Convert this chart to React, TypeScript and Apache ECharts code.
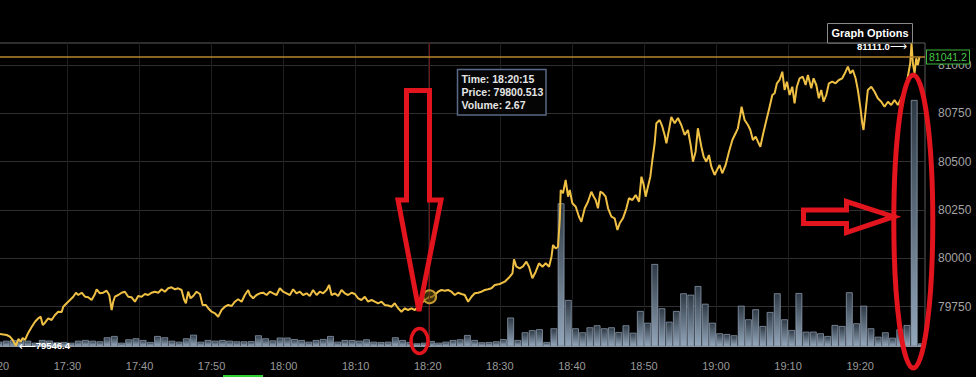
import React, { useEffect, useRef } from "react";
import * as echarts from "echarts";

// ---------- DATA ----------
const priceTimes = [
  "17:20:38","17:21:34","17:22:01","17:22:24","17:22:51","17:23:11","17:23:30","17:23:47","17:24:06","17:24:34",
  "17:25:02","17:25:30","17:25:57","17:26:17","17:26:34","17:26:53","17:27:20","17:27:48","17:28:16","17:28:43",
  "17:29:12","17:29:25","17:29:53","17:30:21","17:30:48","17:31:11","17:31:30","17:31:58","17:32:26","17:32:53",
  "17:33:21","17:33:49","17:34:03","17:34:30","17:34:58","17:35:26","17:35:48","17:36:08","17:36:21","17:36:35",
  "17:37:03","17:37:31","17:37:58","17:38:26","17:38:54","17:39:22","17:39:49","17:40:17","17:40:45","17:41:12",
  "17:41:41","17:42:08","17:42:36","17:43:04","17:43:31","17:43:59","17:44:27","17:44:55","17:45:22","17:45:50",
  "17:46:10","17:46:26","17:46:45","17:47:05","17:47:27","17:47:55","17:48:23","17:48:45","17:49:13","17:49:32",
  "17:50:00","17:50:28","17:50:55","17:51:23","17:51:51","17:52:18","17:52:47","17:53:14","17:53:41","17:54:10",
  "17:54:37","17:55:05","17:55:19","17:55:46","17:56:14","17:56:42","17:57:09","17:57:38","17:58:05","17:58:33",
  "17:59:01","17:59:28","17:59:56","18:00:24","18:00:52","18:01:19","18:01:47","18:02:15","18:02:42","18:03:11",
  "18:03:38","18:04:05","18:04:34","18:05:01","18:05:29","18:05:57","18:06:19","18:06:39","18:07:06","18:07:34",
  "18:08:02","18:08:29","18:08:57","18:09:25","18:09:53","18:10:20","18:10:48","18:11:16","18:11:43","18:12:12",
  "18:12:39","18:13:06","18:13:35","18:14:02","18:14:30","18:14:58","18:15:25","18:15:53","18:16:21","18:16:49",
  "18:17:16","18:17:44","18:18:12","18:18:39","18:19:08","18:19:35","18:20:15","18:20:31","18:20:58","18:21:26",
  "18:21:54","18:22:22","18:22:49","18:23:17","18:23:45","18:24:12","18:24:41","18:25:08","18:25:36","18:26:04",
  "18:26:31","18:26:59","18:27:27","18:27:55","18:28:22","18:28:50","18:29:18","18:29:59","18:30:41","18:31:23",
  "18:31:45","18:31:58","18:32:18","18:32:46","18:33:13","18:33:41","18:34:03","18:34:31","18:34:59","18:35:26",
  "18:35:55","18:36:22","18:36:50","18:37:10","18:37:23","18:37:45","18:38:04","18:38:19","18:38:27","18:38:46",
  "18:39:08","18:39:28","18:39:42","18:40:04","18:40:32","18:40:59","18:41:19","18:41:47","18:42:14","18:42:42",
  "18:43:02","18:43:18","18:43:37","18:43:57","18:44:19","18:44:41","18:45:01","18:45:29","18:45:56","18:46:19",
  "18:46:38","18:47:05","18:47:34","18:47:55","18:48:24","18:48:51","18:49:19","18:49:39","18:49:58","18:50:14",
  "18:50:33","18:50:53","18:51:10","18:51:29","18:51:43","18:52:11","18:52:33","18:52:52","18:53:07","18:53:28",
  "18:53:48","18:54:16","18:54:43","18:55:11","18:55:39","18:56:06","18:56:29","18:56:48","18:57:10","18:57:29",
  "18:57:58","18:58:17","18:58:39","18:59:01","18:59:21","18:59:48","19:00:08","19:00:30","19:00:52","19:01:20",
  "19:01:48","19:02:16","19:02:43","19:03:02","19:03:22","19:03:33","19:03:58","19:04:26","19:04:46","19:05:07",
  "19:05:30","19:05:49","19:06:09","19:06:30","19:06:53","19:07:20","19:07:49","19:08:08","19:08:27","19:08:49",
  "19:09:12","19:09:31","19:09:50","19:10:13","19:10:35","19:10:54","19:11:13","19:11:36","19:12:03","19:12:26",
  "19:12:45","19:13:13","19:13:32","19:13:55","19:14:16","19:14:36","19:14:56","19:15:18","19:15:40","19:16:08",
  "19:16:35","19:17:03","19:17:31","19:17:59","19:18:18","19:18:38","19:18:59","19:19:22","19:19:41","19:20:01",
  "19:20:18","19:20:28","19:20:45","19:21:04","19:21:33","19:22:00","19:22:27","19:22:56","19:23:23","19:23:51",
  "19:24:19","19:24:46","19:25:14","19:25:42","19:26:10","19:26:37","19:26:57","19:27:08","19:27:19","19:27:33",
  "19:27:47","19:28:00","19:28:14",
];

const priceValues = [
  79607.7,79602.5,79593.7,79576.6,79546.4,79581.8,79567.8,79587.0,79576.6,79614.4,
  79643.9,79671.3,79688.9,79697.2,79654.2,79666.1,79688.9,79680.1,79706.0,79723.1,
  79721.5,79748.9,79766.6,79783.6,79800.7,79821.4,79809.5,79821.4,79800.7,79798.0,
  79783.6,79814.7,79839.0,79818.3,79821.4,79831.8,79809.5,79731.9,79774.8,79800.7,
  79809.5,79821.4,79826.6,79800.7,79797.6,79774.8,79804.3,79800.7,79814.7,79809.5,
  79821.4,79826.6,79821.4,79839.0,79826.6,79844.2,79849.4,79839.0,79844.2,79835.4,
  79787.3,79766.6,79826.6,79792.4,79804.3,79826.6,79814.7,79757.8,79757.8,79740.7,
  79723.1,79714.8,79697.2,79731.9,79748.9,79757.8,79752.6,79774.8,79787.3,79774.8,
  79809.5,79835.4,79809.5,79792.4,79809.5,79818.3,79821.4,79809.5,79826.6,79818.3,
  79809.5,79844.2,79826.6,79818.3,79809.5,79839.0,79818.3,79826.6,79809.5,79818.3,
  79804.3,79835.4,79809.5,79826.6,79818.3,79835.4,79861.3,79809.5,79818.3,79804.3,
  79835.4,79818.3,79809.5,79821.4,79814.7,79792.4,79783.6,79800.7,79774.8,79783.6,
  79774.8,79766.6,79774.8,79757.8,79755.0,79748.9,79766.6,79740.7,79723.1,79740.7,
  79731.9,79740.7,79731.9,79748.9,79766.6,79783.6,79800.513,79798.0,79809.5,79826.6,
  79835.4,79831.8,79835.4,79826.6,79809.5,79821.4,79814.7,79809.5,79774.8,79800.7,
  79818.3,79821.4,79826.6,79835.4,79839.0,79844.2,79861.3,79866.5,79878.4,79904.3,
  79921.8,79994.3,79956.0,79947.7,79958.0,79981.9,79956.0,79895.9,79930.1,79973.6,
  79956.0,79973.6,79956.0,80007.7,80068.3,80051.2,80059.5,80197.7,80353.0,80335.9,
  80404.8,80318.3,80353.0,80284.2,80266.6,80214.8,80188.9,80258.3,80292.4,80344.2,
  80318.3,80301.2,80258.3,80344.2,80335.9,80318.3,80258.3,80214.8,80206.5,80145.9,
  80180.6,80206.5,80258.3,80310.2,80301.2,80327.1,80292.4,80421.8,80378.9,80318.3,
  80370.1,80421.8,80508.3,80594.7,80698.2,80715.3,80680.6,80637.7,80594.7,80663.6,
  80730.8,80698.2,80725.7,80689.4,80637.7,80663.6,80585.9,80499.5,80551.2,80672.4,
  80577.1,80525.4,80499.5,80534.2,80473.6,80430.6,80456.5,80482.4,80439.5,80482.4,
  80551.2,80611.8,80646.5,80672.4,80741.2,80784.2,80715.3,80689.4,80663.6,80611.8,
  80628.9,80603.0,80577.1,80637.7,80698.2,80767.1,80844.7,80853.5,80905.3,80922.4,
  80965.3,80870.6,80913.6,80844.7,80887.7,80801.8,80887.7,80931.2,80939.4,80896.5,
  80948.2,80879.4,80931.2,80896.5,80827.6,80870.6,80810.0,80844.7,80905.3,80913.6,
  80905.3,80922.4,80931.2,80965.3,80991.2,80957.0,80974.1,80931.2,80870.6,80784.2,
  80698.2,80663.6,80758.3,80870.6,80887.7,80861.8,80827.6,80810.0,80784.2,80810.0,
  80792.9,80818.8,80792.9,80827.6,80870.6,80939.4,81008.8,81111.0,81008.8,80957.0,
  81034.7,81000.0,81041.2,
];

// one bar per minute, first bar = volumeStart
const volumeStart = "17:20";
const volumeValues = [
  2.30,2.83,3.21,3.10,2.83,1.76,3.21,2.90,1.98,2.14,
  1.76,2.83,3.21,2.83,2.51,4.65,5.35,1.76,3.58,4.12,
  3.21,2.14,5.35,4.65,2.83,2.30,4.12,6.04,2.30,3.21,
  2.83,3.21,2.83,2.51,2.50,2.60,5.72,4.12,3.00,4.50,
  4.50,3.70,3.21,2.30,3.21,3.74,5.35,2.30,3.21,3.15,
  2.83,3.58,2.30,2.14,2.30,4.65,3.21,2.14,1.44,1.76,
  2.67,1.76,2.30,3.21,3.58,5.88,3.21,2.00,2.14,2.50,
  3.66,15.24,3.21,7.33,8.45,8.98,2.14,9.47,76.30,24.60,
  9.47,7.33,10.00,11.07,9.47,10.00,7.49,11.07,7.11,18.72,
  12.46,43.85,20.16,13.00,18.72,28.18,27.43,32.09,22.60,12.46,
  6.79,6.42,5.72,21.55,14.28,19.63,10.70,18.18,28.18,14.28,
  8.56,28.30,7.65,7.70,6.79,5.35,11.23,10.70,28.72,12.14,
  21.55,9.47,4.97,7.33,4.44,8.93,11.23,131.55,1.44,
];

const timeStart = "17:20:00";
const timeEnd = "19:29:00";
const timeStepMinutes = 10;
const priceMin = 79500;
const priceMax = 81250;
const priceStep = 250;
const volumeMax = 162;
const tooltipTime = "18:20:15";
const menuLabel = "Graph Options";

// ---------- HELPERS ----------
const BASE_HOUR = 17;
function toMin(t: string): number {
  const p = t.split(":").map(Number);
  return (p[0] - BASE_HOUR) * 60 + p[1] + (p[2] || 0) / 60;
}
function fmtMin(v: number): string {
  const total = Math.round(v);
  const h = BASE_HOUR + Math.floor(total / 60);
  const m = total % 60;
  return `${h}:${String(m).padStart(2, "0")}`;
}

const FONT = 'Arial, "Liberation Sans", Helvetica, sans-serif';

export default function App() {
  const ref = useRef<HTMLDivElement>(null);

  useEffect(() => {
    if (!ref.current) return;
    const chart = echarts.init(ref.current, null, { renderer: "svg" });

    const priceData = priceTimes.map((t, i) => [toMin(t), priceValues[i]]);
    const vStart = toMin(volumeStart);
    const volumeData = volumeValues.map((v, i) => [vStart + i + 0.5, v]);

    let maxI = 0, minI = 0;
    priceValues.forEach((v, i) => {
      if (v > priceValues[maxI]) maxI = i;
      if (v < priceValues[minI]) minI = i;
    });
    const lastI = priceValues.length - 1;
    const lastVal = priceValues[lastI];
    const tipI = priceTimes.indexOf(tooltipTime);
    const tipPrice = priceValues[tipI];
    const tipVol = volumeValues[Math.floor(toMin(tooltipTime) - vStart)];
    const tipLines = [
      `Time: ${tooltipTime}`,
      `Price: ${tipPrice}`,
      `Volume: ${tipVol.toFixed(2)}`,
    ];

    const xMin = toMin(timeStart);
    const xMax = toMin(timeEnd);
    const red = "#e2141d";

    const option: any = {
      animation: false,
      backgroundColor: "#000",
      grid: [
        {
          left: -4.6, right: 51, top: 43, bottom: 31,
          containLabel: false, outerBoundsMode: "none",
          show: true, borderColor: "#5c5c5c", borderWidth: 1, backgroundColor: "rgba(0,0,0,0)",
        },
        {
          left: -4.6, right: 51, top: 16.7, bottom: 22.2,
          containLabel: false, outerBoundsMode: "none", show: false,
        },
      ],
      xAxis: [
        {
          type: "value", gridIndex: 0, min: xMin, max: xMax, interval: timeStepMinutes,
          axisLine: { show: true, lineStyle: { color: "#8b97a4", width: 1 } },
          axisTick: { show: false },
          axisLabel: {
            color: "#9a9a9a", fontSize: 11, fontFamily: FONT, margin: 14,
            formatter: (v: number) => fmtMin(v), showMaxLabel: false,
          },
          splitLine: { show: true, lineStyle: { color: "#1e1e1e", width: 1 }, showMaxLine: false },
        },
        { type: "value", gridIndex: 1, min: xMin, max: xMax, show: false },
      ],
      yAxis: [
        { type: "value", gridIndex: 0, min: 0, max: volumeMax, show: false },
        {
          type: "value", gridIndex: 1, min: priceMin, max: priceMax, interval: priceStep,
          position: "right",
          axisLine: { show: false }, axisTick: { show: false },
          axisLabel: {
            color: "#a3a3a3", fontSize: 12, fontFamily: FONT, margin: 13,
            showMinLabel: false, showMaxLabel: false, formatter: (v: number) => String(v),
          },
          splitLine: {
            show: true, lineStyle: { color: "#303030", width: 1 },
            showMinLine: false, showMaxLine: false,
          },
        },
      ],
      series: [
        {
          name: "Volume", type: "bar", xAxisIndex: 0, yAxisIndex: 0,
          data: volumeData, barWidth: 6.8, z: 2,
          itemStyle: {
            color: new echarts.graphic.LinearGradient(0, 0, 0, 1, [
              { offset: 0, color: "#2e3944" },
              { offset: 1, color: "#93a7bb" },
            ]),
            borderColor: "rgba(155,172,192,0.85)", borderWidth: 0.8,
          },
          markLine: {
            silent: true, symbol: "none", animation: false,
            data: [{ xAxis: toMin(tooltipTime) }],
            lineStyle: { color: "#6e1515", width: 1, type: "solid" },
            label: { show: false },
          },
        },
        {
          name: "Price", type: "line", xAxisIndex: 1, yAxisIndex: 1,
          data: priceData, showSymbol: false, symbol: "none", z: 3,
          lineStyle: { color: "#efc044", width: 2 },
          markLine: {
            silent: true, symbol: "none", animation: false,
            data: [{ yAxis: lastVal }],
            lineStyle: { color: "#b8872c", width: 1.5, type: "solid" },
            label: {
              show: true, position: "end", distance: 2,
              formatter: lastVal.toFixed(1),
              color: "#46c646", fontSize: 10.5, fontFamily: FONT,
              backgroundColor: "#030303", borderColor: "#3db83d", borderWidth: 1,
              padding: [1, 2, 1, 2],
            },
          },
          markPoint: {
            silent: true, animation: false,
            data: [
              {
                coord: [toMin(priceTimes[maxI]), priceValues[maxI]],
                symbol: "circle", symbolSize: 1, itemStyle: { color: "rgba(0,0,0,0)" },
                label: {
                  show: true, position: "left", distance: 4, offset: [0, 2.5],
                  formatter: `{b|${priceValues[maxI].toFixed(1)}}{a|\u27f6}`,
                  rich: {
                    b: { color: "#fff", fontSize: 9.5, fontWeight: "bold", fontFamily: FONT },
                    a: { color: "#fff", fontSize: 12, fontFamily: "DejaVu Sans" },
                  },
                },
              },
              {
                coord: [toMin(priceTimes[minI]), priceValues[minI]],
                symbol: "circle", symbolSize: 1, itemStyle: { color: "rgba(0,0,0,0)" },
                label: {
                  show: true, position: "right", distance: 2,
                  formatter: `{a|\u27f5}{b|${priceValues[minI].toFixed(1)}}`,
                  rich: {
                    b: { color: "#fff", fontSize: 9.5, fontWeight: "bold", fontFamily: FONT },
                    a: { color: "#fff", fontSize: 12, fontFamily: "DejaVu Sans" },
                  },
                },
              },
              {
                coord: [toMin(tooltipTime), tipPrice],
                symbol: "circle", symbolSize: 13,
                itemStyle: { color: "rgba(95,72,12,0.6)", borderColor: "#c29a30", borderWidth: 2 },
                label: { show: false },
              },
            ],
          },
        },
      ],
      graphic: [
        {
          type: "rect", z: 1,
          shape: { x: 827.5, y: 23.5, width: 85, height: 19.5 },
          style: { fill: "#000", stroke: "#8a8a8a", lineWidth: 1 },
        },
        {
          type: "text", z: 2, x: 870, y: 33,
          style: {
            text: menuLabel, fill: "#ffffff", font: `bold 11px ${FONT}`,
            align: "center", verticalAlign: "middle", textAlign: "center", textVerticalAlign: "middle",
          },
        },
        {
          type: "group", x: 457.5, y: 69.5, z: 100,
          children: [
            {
              type: "rect", z: 100,
              shape: { x: 0, y: 0, width: 88.5, height: 45.5 },
              style: { fill: "#050505", stroke: "#5a6987", lineWidth: 1.5 },
            },
            {
              type: "text", z: 101, x: 4, y: 3.5,
              style: {
                text: tipLines.join("\n"), fill: "#e6e6e6", font: `bold 10.5px ${FONT}`,
                lineHeight: 12.7, align: "left", verticalAlign: "top",
                textAlign: "left", textVerticalAlign: "top",
              },
            },
          ],
        },
        {
          type: "polygon", z: 110,
          shape: { points: [[406.5, 90.5], [429.5, 90.5], [429.5, 200], [441, 200], [419, 311], [398, 200], [406.5, 200]] },
          style: { fill: "none", stroke: red, lineWidth: 5, lineJoin: "miter" },
        },
        {
          type: "ellipse", z: 110,
          shape: { cx: 419.5, cy: 341, rx: 8.5, ry: 12.5 },
          style: { fill: "none", stroke: red, lineWidth: 3.5 },
        },
        {
          type: "polygon", z: 110,
          shape: { points: [[803.5, 210], [846.5, 210], [846.5, 201.5], [893.5, 216.7], [846.5, 232.5], [846.5, 223.5], [803.5, 223.5]] },
          style: { fill: "none", stroke: red, lineWidth: 5, lineJoin: "miter" },
        },
        {
          type: "ellipse", z: 110,
          shape: { cx: 913.3, cy: 221.5, rx: 19.5, ry: 146.5 },
          style: { fill: "none", stroke: red, lineWidth: 5 },
        },
        {
          type: "rect", z: 110,
          shape: { x: 223, y: 375, width: 40, height: 2 },
          style: { fill: "#2fcf2f" },
        },
      ],
    };

    chart.setOption(option);
    return () => chart.dispose();
  }, []);

  return (
    <div style={{ position: "fixed", left: 0, top: 0, width: 976, height: 377, background: "#000", overflow: "hidden" }}>
      <div ref={ref} style={{ width: 976, height: 377 }} />
    </div>
  );
}
